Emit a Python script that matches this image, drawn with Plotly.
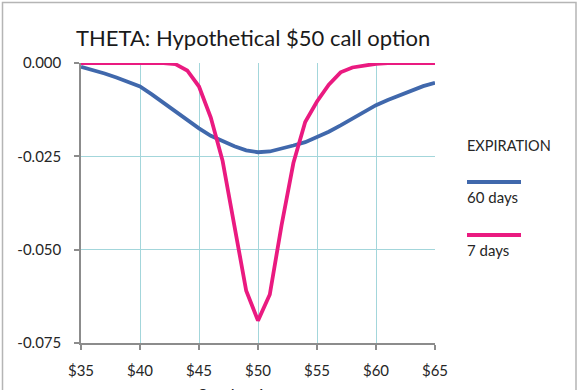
import plotly.graph_objects as go

# ---- data ----
stock_price = [35, 36, 37, 38, 39, 40, 41, 42, 43, 44, 45, 46, 47, 48, 49, 50,
               51, 52, 53, 54, 55, 56, 57, 58, 59, 60, 61, 62, 63, 64, 65]
theta_60_days = [-0.0010, -0.0018, -0.0028, -0.0039, -0.0050, -0.0063, -0.0084,
                 -0.0107, -0.0131, -0.0155, -0.0175, -0.0195, -0.0210, -0.0223,
                 -0.0234, -0.0239, -0.0237, -0.0230, -0.0221, -0.0212, -0.0198,
                 -0.0184, -0.0167, -0.0149, -0.0131, -0.0113, -0.0099, -0.0086,
                 -0.0073, -0.0062, -0.0053]
theta_7_days = [0.0, 0.0, 0.0, 0.0, 0.0, 0.0, 0.0, 0.0, -0.0003, -0.0020,
                -0.0063, -0.0146, -0.0262, -0.0432, -0.0610, -0.0690, -0.0620,
                -0.0434, -0.0268, -0.0158, -0.0103, -0.0058, -0.0025, -0.0012,
                -0.0006, -0.0002, 0.0, 0.0, 0.0, 0.0, 0.0]
x_ticks = [35, 40, 45, 50, 55, 60, 65]
x_tick_labels = ["$35", "$40", "$45", "$50", "$55", "$60", "$65"]
y_ticks = [0.0, -0.025, -0.05, -0.075]
y_tick_labels = ["0.000", "-0.025", "-0.050", "-0.075"]
series_names = ["60 days", "7 days"]
legend_title = "EXPIRATION"
chart_title = "THETA: Hypothetical $50 call option"
x_title = "Stock price"

BLUE = "#4068ac"
PINK = "#ea1a80"
GRID = "#a3d6db"
AXIS = "#8c8c8c"
TEXT = "#262626"
FONT = "Lato"

fig = go.Figure()
fig.add_trace(go.Scatter(x=stock_price, y=theta_60_days, mode="lines",
                         name=series_names[0], line=dict(color=BLUE, width=3.8)))
fig.add_trace(go.Scatter(x=stock_price, y=theta_7_days, mode="lines",
                         name=series_names[1], line=dict(color=PINK, width=3.8)))

L, R, T, B = 81, 150, 63, 47
W, H = 585, 390
pw, ph = W - L - R, H - T - B


def px(xp):
    return (xp - L) / pw


def py(yp):
    return (H - B - yp) / ph


fig.update_layout(
    width=W, height=H,
    margin=dict(l=L, r=R, t=T, b=B, autoexpand=False),
    paper_bgcolor="white", plot_bgcolor="white",
    showlegend=False,
    font=dict(family=FONT, color=TEXT, size=15),
    title=dict(text=chart_title, x=76 / W, xanchor="left", y=1 - 38 / H,
               yanchor="middle", font=dict(size=22, color="#1a1a1a", family=FONT)),
)

fig.update_xaxes(range=[35, 65], tickvals=x_ticks, ticktext=x_tick_labels,
                 showgrid=True, gridcolor=GRID, gridwidth=1,
                 showline=True, linecolor=AXIS, linewidth=1.5,
                 ticks="outside", ticklen=5, tickcolor=AXIS, tickwidth=1.5,
                 zeroline=False, tickfont=dict(size=15, color=TEXT),
                 ticklabelstandoff=8, automargin=False)
fig.update_yaxes(range=[-0.075, 0], tickvals=y_ticks, ticktext=y_tick_labels,
                 showgrid=True, gridcolor=GRID, gridwidth=1,
                 showline=True, linecolor=AXIS, linewidth=1.5,
                 ticks="outside", ticklen=5, tickcolor=AXIS, tickwidth=1.5,
                 zeroline=False, tickfont=dict(size=15, color=TEXT),
                 ticklabelstandoff=10, automargin=False)

# custom legend (line above label, as in the reference)
fig.add_annotation(text=legend_title, xref="paper", yref="paper",
                   x=px(465), y=py(145), xanchor="left", yanchor="middle",
                   showarrow=False, font=dict(size=14.5, color=TEXT))
for name, color, y_line, y_text in [(series_names[0], BLUE, 182, 197),
                                    (series_names[1], PINK, 235, 250)]:
    fig.add_shape(type="line", xref="paper", yref="paper",
                  x0=px(467), x1=px(521), y0=py(y_line), y1=py(y_line),
                  line=dict(color=color, width=3.8))
    fig.add_annotation(text=name, xref="paper", yref="paper",
                       x=px(465), y=py(y_text), xanchor="left", yanchor="middle",
                       showarrow=False, font=dict(size=15, color=TEXT))

# x-axis title (cut off by the bottom edge in the reference)
fig.add_annotation(text=x_title, xref="paper", yref="paper",
                   x=px(196), y=py(383), xanchor="left", yanchor="top",
                   showarrow=False, font=dict(size=17, color=TEXT))

# outer chart frame
fig.add_shape(type="rect", xref="paper", yref="paper",
              x0=px(2.5), x1=px(576), y0=py(420), y1=py(2.5),
              line=dict(color="#b5b5b5", width=1.5), layer="below")

fig.write_html("out.html", config={"displayModeBar": False},
               post_script="document.body.style.margin='0';"
                           "document.body.style.overflow='hidden';")
